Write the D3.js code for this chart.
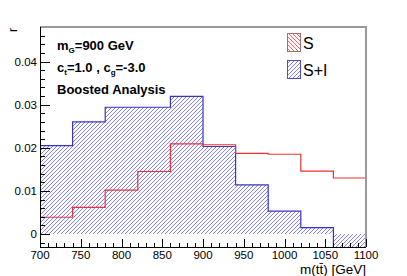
<!DOCTYPE html>
<html>
<head>
<meta charset="utf-8">
<script src="https://cdn.jsdelivr.net/npm/d3@7"></script>
<style>
    body { margin: 0; background: #ffffff; }
    text { font-family: 'Liberation Sans', Arial, sans-serif; }
</style>
</head>
<body>
<div id="chart"></div>
<script>
'use strict';

// bin edges of m(tt) [GeV], last edge closes the histogram
var binEdges = [700, 740, 780, 820, 860, 900, 940, 980, 1020, 1060, 1100];
var signal = [0.0039, 0.0062, 0.0102, 0.0145, 0.0209, 0.0207, 0.0187, 0.0185, 0.0146, 0.0130];
var signalPlusInterf = [0.0205, 0.0260, 0.0294, 0.0294, 0.0319, 0.0203, 0.0114, 0.0053, 0.0015, -0.0040];

var xTickLabels = [700, 750, 800, 850, 900, 950, 1000, 1050, 1100];
var yTickLabels = [0, 0.01, 0.02, 0.03, 0.04];
var legendLabels = ['S', 'S+I'];

var width = 407,
    height = 276,
    padLeft = 40,
    padRight = 366,
    padTop = 27,
    padBottom = 247;

var svg = d3.select('#chart').append('svg')
    .attr('width', width)
    .attr('height', height);

var x = d3.scaleLinear().domain([700, 1100]).range([padLeft, padRight]);
var y = d3.scaleLinear().domain([-0.003, 0.048]).range([padBottom, padTop]);

var defs = svg.append('defs');

defs.append('clipPath')
        .attr('id', 'plotClip')
    .append('rect')
        .attr('x', padLeft)
        .attr('y', padTop)
        .attr('width', padRight - padLeft)
        .attr('height', padBottom - padTop);

function bins(values) {
    return values.map(function(v, i) {
        return { x0: binEdges[i], x1: binEdges[i + 1], v: v };
    });
}

function stepPath(values) {
    var d = '';
    bins(values).forEach(function(b, i) {
        d += (i === 0 ? 'M' : 'L') + x(b.x0) + ',' + y(b.v) + ' L' + x(b.x1) + ',' + y(b.v) + ' ';
    });
    return d;
}

// diagonal hatch lines over a box, clipped later; dir 1 = '/', -1 = '\'
function hatchPath(x0, y0, w, h, dir) {
    var d = '';
    for (var k = -h - 4; k <= w + 4; k += 4) {
        if (dir > 0) {
            d += 'M' + (x0 + k) + ',' + (y0 + h) + ' L' + (x0 + k + h) + ',' + y0 + ' ';
        } else {
            d += 'M' + (x0 + k) + ',' + y0 + ' L' + (x0 + k + h) + ',' + (y0 + h) + ' ';
        }
    }
    return d;
}

// clip made of the S+I bars, from zero to the bin content
defs.append('clipPath')
        .attr('id', 'barsClip')
    .selectAll('rect')
    .data(bins(signalPlusInterf))
    .enter().append('rect')
        .attr('x', function(d) { return x(d.x0); })
        .attr('width', function(d) { return x(d.x1) - x(d.x0); })
        .attr('y', function(d) { return Math.min(y(d.v), y(0)); })
        .attr('height', function(d) { return Math.abs(y(d.v) - y(0)); });

var plot = svg.append('g')
    .attr('clip-path', 'url(#plotClip)');

plot.append('g')
        .attr('clip-path', 'url(#barsClip)')
    .append('path')
        .attr('d', hatchPath(padLeft, padTop, padRight - padLeft, padBottom - padTop, 1))
        .attr('fill', 'none')
        .attr('stroke', '#8080ff')
        .attr('stroke-width', 1)
        .attr('shape-rendering', 'crispEdges');

plot.append('path')
    .attr('d', stepPath(signalPlusInterf))
    .attr('fill', 'none')
    .attr('stroke', '#3434c8')
    .attr('stroke-width', 1.2);

plot.append('path')
    .attr('d', stepPath(signal))
    .attr('fill', 'none')
    .attr('stroke', '#f03030')
    .attr('stroke-width', 1.2);

// frame
svg.append('path')
    .attr('d', 'M' + padLeft + ',' + padTop + ' L' + padRight + ',' + padTop + ' L' + padRight + ',' + padBottom)
    .attr('fill', 'none')
    .attr('stroke', '#9a9a9a')
    .attr('stroke-width', 2);

// axes, ticks drawn inside like ROOT
var axes = svg.append('g')
    .attr('stroke', '#000000')
    .attr('stroke-width', 1);

axes.append('line')
    .attr('x1', padLeft + 0.5).attr('x2', padLeft + 0.5)
    .attr('y1', padTop).attr('y2', padBottom + 0.5);
axes.append('line')
    .attr('x1', padLeft).attr('x2', padRight)
    .attr('y1', padBottom + 0.5).attr('y2', padBottom + 0.5);

var yMinor = d3.range(-1, 24).map(function(i) { return i * 0.002; });
axes.selectAll('line.ymin')
    .data(yMinor)
    .enter().append('line')
        .attr('x1', padLeft)
        .attr('x2', function(d, i) { return (i - 1) % 5 === 0 ? padLeft + 10 : padLeft + 5; })
        .attr('y1', function(d) { return Math.round(y(d)) + 0.5; })
        .attr('y2', function(d) { return Math.round(y(d)) + 0.5; });

var xMinor = d3.range(70, 111).map(function(i) { return i * 10; });
axes.selectAll('line.xmin')
    .data(xMinor)
    .enter().append('line')
        .attr('x1', function(d) { return Math.round(x(d)) + 0.5; })
        .attr('x2', function(d) { return Math.round(x(d)) + 0.5; })
        .attr('y1', padBottom)
        .attr('y2', function(d) { return d % 50 === 0 ? padBottom - 8 : padBottom - 4; });

svg.selectAll('text.ylab')
    .data(yTickLabels)
    .enter().append('text')
        .attr('x', 37)
        .attr('y', function(d) { return y(d) + 4; })
        .attr('text-anchor', 'end')
        .attr('font-size', '11.5px')
        .text(function(d) { return d === 0 ? '0' : d.toFixed(2); });

svg.selectAll('text.xlab')
    .data(xTickLabels)
    .enter().append('text')
        .attr('x', function(d) { return x(d); })
        .attr('y', 259)
        .attr('text-anchor', 'middle')
        .attr('font-size', '11.5px')
        .text(function(d) { return d; });

svg.append('text')
    .attr('x', padRight)
    .attr('y', 274)
    .attr('text-anchor', 'end')
    .attr('font-size', '13.5px')
    .text('m(tt\u0304) [GeV]');

svg.append('text')
    .attr('transform', 'translate(17,28) rotate(-90)')
    .attr('text-anchor', 'end')
    .attr('font-size', '12px')
    .text('r');

// labels
var info = svg.append('g')
    .attr('font-size', '13px')
    .attr('font-weight', 'bold');

var t1 = info.append('text').attr('x', 57).attr('y', 50);
t1.append('tspan').text('m');
t1.append('tspan').attr('font-size', '8px').attr('dy', 3).text('G');
t1.append('tspan').attr('dy', -3).text('=900 GeV');

var t2 = info.append('text').attr('x', 57).attr('y', 72);
t2.append('tspan').text('c');
t2.append('tspan').attr('font-size', '8px').attr('dy', 3).text('t');
t2.append('tspan').attr('dy', -3).text('=1.0 , c');
t2.append('tspan').attr('font-size', '8px').attr('dy', 3).text('g');
t2.append('tspan').attr('dy', -3).text('=-3.0');

info.append('text')
    .attr('x', 57)
    .attr('y', 94)
    .text('Boosted Analysis');

// legend
var legendDir = [-1, 1];
var legendHatch = ['#ff6060', '#8080ff'];
var legendStroke = ['#a07070', '#4a4ad0'];

var legend = svg.selectAll('g.legend')
    .data(legendLabels)
    .enter().append('g')
        .attr('transform', function(d, i) { return 'translate(287,' + (33 + i * 27) + ')'; });

legend.each(function(d, i) {
    var g = d3.select(this);
    defs.append('clipPath')
            .attr('id', 'legClip' + i)
        .append('rect')
            .attr('x', 0)
            .attr('y', 0)
            .attr('width', 14)
            .attr('height', 19);
    g.append('path')
        .attr('clip-path', 'url(#legClip' + i + ')')
        .attr('d', hatchPath(0, 0, 14, 19, legendDir[i]))
        .attr('fill', 'none')
        .attr('stroke', legendHatch[i])
        .attr('stroke-width', 1)
        .attr('shape-rendering', 'crispEdges');
});

legend.append('rect')
    .attr('x', 0.5)
    .attr('y', 0.5)
    .attr('width', 13)
    .attr('height', 18)
    .attr('fill', 'none')
    .attr('stroke', function(d, i) { return legendStroke[i]; });

legend.append('text')
    .attr('x', 16)
    .attr('y', 16)
    .attr('font-size', '16px')
    .text(function(d) { return d; });
</script>
</body>
</html>
